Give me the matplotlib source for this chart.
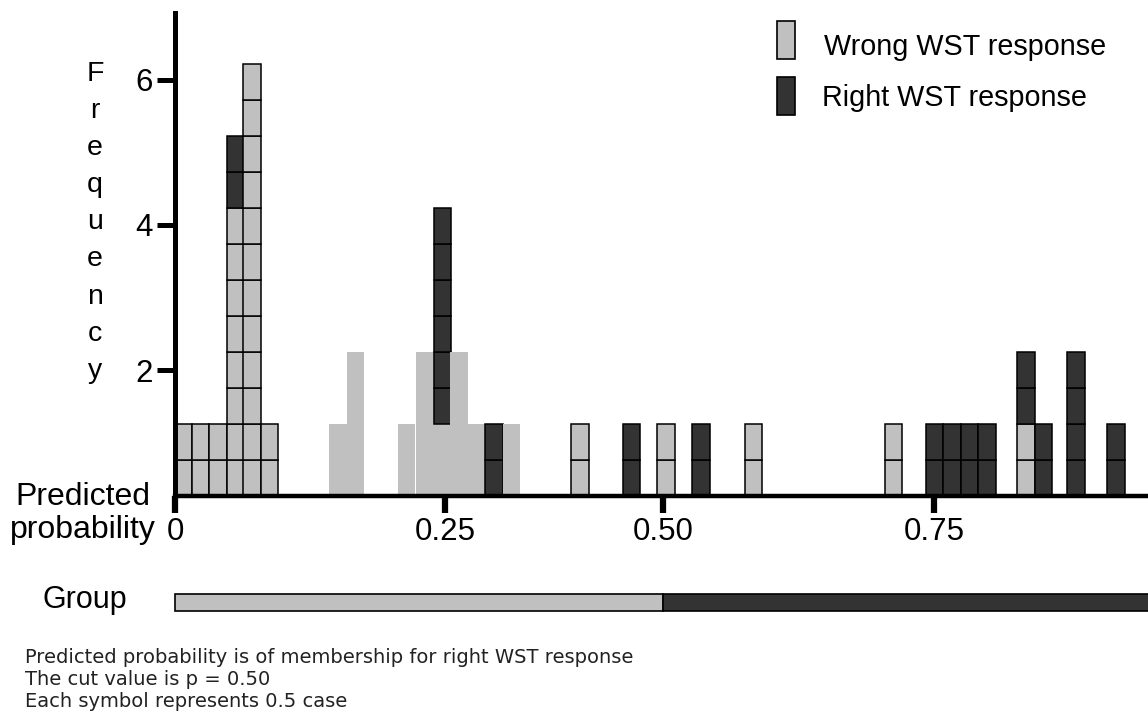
import matplotlib
matplotlib.use('Agg')
import matplotlib.pyplot as plt
from matplotlib.patches import Rectangle

# predicted probability at the centre of each column of symbols
prob = [0.009, 0.026, 0.044, 0.062, 0.079, 0.097,
        0.167, 0.185, 0.237, 0.256, 0.274, 0.291, 0.309, 0.327, 0.345,
        0.415, 0.468, 0.503, 0.539, 0.593,
        0.736, 0.778, 0.796, 0.814, 0.832, 0.872, 0.890, 0.923, 0.964]
# number of cases in each column
wrong = [1, 1, 1, 4, 6, 1,
         1, 2, 1, 2, 1, 2, 1, 0, 1,
         1, 0, 1, 0, 1,
         1, 0, 0, 0, 0, 1, 0, 0, 0]
right = [0, 0, 0, 1, 0, 0,
         0, 0, 0, 0, 3, 0, 0, 1, 0,
         0, 1, 0, 1, 0,
         0, 1, 1, 1, 1, 1, 1, 2, 1]
# columns whose light symbols are drawn without borders
no_border = [6, 7, 8, 9, 10, 11, 12, 13, 14]

group_edges = [0, 0.5, 1.0]
xtick_pos = [0, 0.277, 0.5, 0.778]
xtick_labels = ['0', '0.25', '0.50', '0.75']
ytick_pos = [1.75, 3.77, 5.78]
ytick_labels = ['2', '4', '6']

footnotes = ['Predicted probability is of membership for right WST response',
             'The cut value is p = 0.50',
             'Each symbol represents 0.5 case']

SYMBOL = 0.5        # cases per symbol
COL_W = 0.0178      # width of one symbol column
LIGHT = '#c0c0c0'
DARK = '#333333'

plt.rcParams['font.family'] = ['Liberation Sans', 'DejaVu Sans']

W, H = 1148, 712
fig = plt.figure(figsize=(W / 100, H / 100), dpi=100)


def fx(px):
    return px / W


def fy(py):
    return 1 - py / H


ax = fig.add_axes([fx(175), fy(496), fx(1148) - fx(175), fy(13) - fy(496)])
ax.set_xlim(0, (1148 - 175) / 976)
ax.set_ylim(0, (496 - 13) / 72)

# stack the symbols, wrong responses first, right responses on top
for i, p in enumerate(prob):
    n_w = int(round(wrong[i] / SYMBOL))
    n_r = int(round(right[i] / SYMBOL))
    ec = 'none' if i in no_border else 'black'
    for k in range(n_w):
        ax.bar(p, SYMBOL, width=COL_W, bottom=k * SYMBOL, color=LIGHT,
               edgecolor=ec, linewidth=1.1)
    for k in range(n_r):
        ax.bar(p, SYMBOL, width=COL_W, bottom=(n_w + k) * SYMBOL, color=DARK,
               edgecolor='black', linewidth=1.1)

for s in ['top', 'right']:
    ax.spines[s].set_visible(False)
ax.spines['left'].set_linewidth(3.6)
ax.spines['bottom'].set_linewidth(3.2)

ax.set_xticks(xtick_pos)
ax.set_xticklabels(xtick_labels)
ax.set_yticks(ytick_pos)
ax.set_yticklabels(ytick_labels)
ax.tick_params(axis='x', direction='out', length=12, width=4.5, labelsize=22.5, pad=3)
ax.tick_params(axis='y', direction='out', length=13, width=3.6, labelsize=22.5, pad=3)

# vertical "Frequency" written letter by letter
for i, ch in enumerate('Frequency'):
    fig.text(fx(95), fy(81 + 37.1 * i), ch, size=20.5, ha='center', va='baseline')

fig.text(fx(83), fy(505), 'Predicted', size=23, ha='center', va='baseline')
fig.text(fx(83), fy(538), 'probability', size=23, ha='center', va='baseline')

# legend
fig.add_artist(Rectangle((fx(777), fy(59)), fx(795) - fx(777), fy(21) - fy(59),
                         transform=fig.transFigure, facecolor=LIGHT,
                         edgecolor='black', linewidth=1.2))
fig.add_artist(Rectangle((fx(777), fy(115)), fx(795) - fx(777), fy(77) - fy(115),
                         transform=fig.transFigure, facecolor=DARK,
                         edgecolor='black', linewidth=1.2))
fig.text(fx(824), fy(55), 'Wrong WST response', size=20.7, va='baseline')
fig.text(fx(822), fy(106), 'Right WST response', size=20.7, va='baseline')

# group bar
ax2 = fig.add_axes([fx(175), fy(611), fx(1148) - fx(175), fy(594) - fy(611)])
ax2.set_xlim(ax.get_xlim())
ax2.set_ylim(0, 1)
ax2.barh(0.5, group_edges[1] - group_edges[0], left=group_edges[0], height=1,
         color=LIGHT, edgecolor='black', linewidth=1.2, clip_on=False)
ax2.barh(0.5, group_edges[2] - group_edges[1], left=group_edges[1], height=1,
         color=DARK, edgecolor='black', linewidth=1.2, clip_on=False)
ax2.axis('off')
fig.text(fx(42), fy(608), 'Group', size=22, va='baseline')

for i, line in enumerate(footnotes):
    fig.text(fx(25), fy(663 + 22 * i), line, size=14, va='baseline',
             color='#222222', family='DejaVu Sans')

fig.savefig('out.png', dpi=100)
